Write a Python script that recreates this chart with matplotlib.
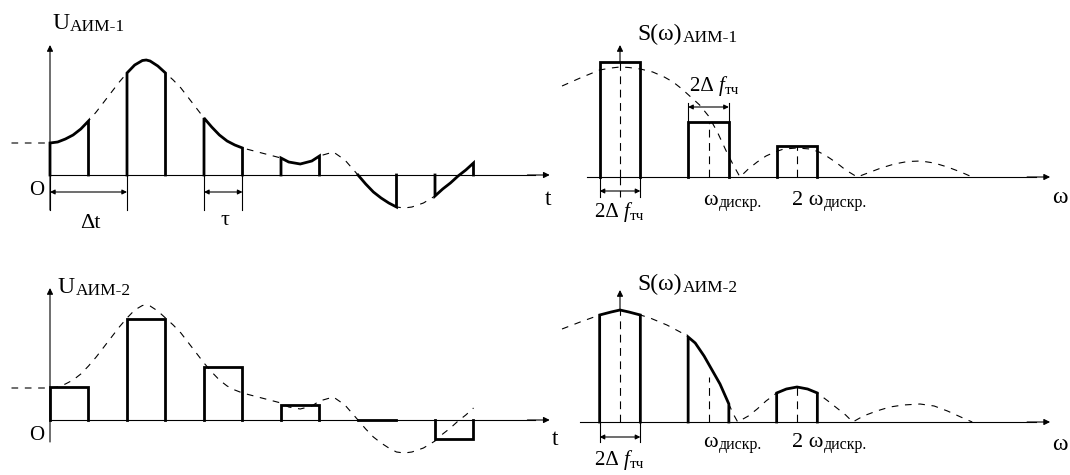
import matplotlib
matplotlib.use("Agg")
import matplotlib.pyplot as plt

plt.rcParams['font.family'] = ['Liberation Serif', 'DejaVu Serif']

W, H = 1070, 475

# ---- time domain: envelope (t in units of the sampling step, u relative)
env_t = [-0.5, -0.2, 0.0, 0.1, 0.2, 0.3, 0.4, 0.5, 0.6, 0.7, 0.8, 0.9,
         1.0, 1.1, 1.2, 1.25, 1.3, 1.4, 1.5, 1.6, 1.7, 1.8, 1.9,
         2.0, 2.1, 2.2, 2.3, 2.4, 2.5, 2.75, 3.0, 3.1, 3.25, 3.4, 3.5,
         3.68, 3.83, 4.0, 4.1, 4.2, 4.3, 4.4, 4.5, 4.6, 4.7, 4.85,
         5.0, 5.1, 5.2, 5.3, 5.4, 5.5]
env_u = [0.32, 0.32, 0.32, 0.33, 0.36, 0.40, 0.46, 0.54, 0.63, 0.73, 0.83, 0.93,
         1.02, 1.10, 1.145, 1.15, 1.14, 1.09, 1.02, 0.95, 0.87, 0.77, 0.67,
         0.57, 0.48, 0.40, 0.34, 0.30, 0.27, 0.22, 0.17, 0.13, 0.11, 0.14, 0.19,
         0.23, 0.15, 0.0, -0.09, -0.17, -0.23, -0.28, -0.32, -0.33, -0.32, -0.28,
         -0.21, -0.14, -0.08, -0.01, 0.05, 0.12]
sample_t = [0, 1, 2, 3, 4, 5]
tau = 0.5
aim2_u = [0.33, 1.01, 0.53, 0.15, 0.0, -0.19]

# ---- spectra (w in units of w_discr)
spec1_w = [-0.655, -0.45, -0.23, -0.1, 0.0, 0.1, 0.23, 0.37, 0.5, 0.6, 0.7,
           0.8, 0.9, 1.0, 1.1, 1.2, 1.28, 1.356, 1.45, 1.55, 1.65, 1.75, 1.85,
           2.0, 2.15, 2.25, 2.35, 2.45, 2.55, 2.68, 2.8, 2.95, 3.1, 3.25, 3.4,
           3.55, 3.7, 3.85, 3.98]
spec1_s = [0.91, 0.99, 1.07, 1.09, 1.10, 1.095, 1.08, 1.05, 1.00, 0.95, 0.88,
           0.80, 0.72, 0.61, 0.45, 0.26, 0.12, 0.0, 0.08, 0.15, 0.21, 0.25, 0.28,
           0.29, 0.28, 0.25, 0.20, 0.14, 0.07, 0.0, 0.04, 0.09, 0.13, 0.155, 0.16,
           0.14, 0.10, 0.05, 0.0]
spec2_w = [-0.655, -0.45, -0.23, -0.1, 0.0, 0.1, 0.23, 0.34, 0.53, 0.68, 0.77,
           0.85, 0.95, 1.04, 1.13, 1.23, 1.28, 1.33, 1.45, 1.55, 1.65, 1.77,
           1.88, 2.0, 2.12, 2.23, 2.35, 2.45, 2.55, 2.63, 2.75, 2.9, 3.05, 3.2,
           3.39, 3.55, 3.7, 3.85, 3.98]
spec2_s = [0.93, 1.00, 1.07, 1.10, 1.12, 1.10, 1.07, 1.04, 0.97, 0.90, 0.85,
           0.79, 0.66, 0.52, 0.38, 0.18, 0.08, 0.0, 0.06, 0.13, 0.21, 0.29,
           0.33, 0.35, 0.33, 0.29, 0.21, 0.14, 0.07, 0.0, 0.06, 0.11, 0.15, 0.17,
           0.18, 0.16, 0.11, 0.05, 0.0]
band_c = [0, 1, 2]
band_half = 0.23
aim1_band_s = [1.15, 0.55, 0.31]

THICK = 2.0
THIN = 0.8
DASH = (6, 6)

fig = plt.figure(figsize=(W / 100, H / 100), dpi=100)


def panel(px0, px1, py0, py1, ox, oy, sx, sy):
    ax = fig.add_axes([px0 / W, 1 - py1 / H, (px1 - px0) / W, (py1 - py0) / H])
    ax.set_xlim((px0 - ox) / sx, (px1 - ox) / sx)
    ax.set_ylim((oy - py1) / sy, (oy - py0) / sy)
    ax.axis('off')
    return ax


def arrow(ax, x0, y0, x1, y1, style='-|>', ms=9):
    ax.annotate('', xy=(x1, y1), xytext=(x0, y0),
                arrowprops=dict(arrowstyle=style, lw=THIN, color='k',
                                mutation_scale=ms, shrinkA=0, shrinkB=0))


def chain(ax, x, y, parts):
    # parts: (text, size, style, dy) ; each one starts where the last ended
    first = parts[0]
    prev = ax.text(x, y, first[0], fontsize=first[1], style=first[2],
                   ha='left', va='baseline')
    for txt, size, st, dy in parts[1:]:
        prev = ax.annotate(txt, xy=(1, 0), xycoords=prev,
                           xytext=(0.5, dy), textcoords='offset points',
                           fontsize=size, style=st, ha='left', va='bottom')


def seg(xs, ys, a, b):
    return [(x, y) for x, y in zip(xs, ys) if a - 1e-9 <= x <= b + 1e-9]


def dashed_env(ax, xs, ys):
    ax.plot(xs, ys, color='k', lw=THIN, dashes=DASH)


# ================= top left: АИМ-1 time domain
ax = panel(0, 560, 0, 230, 50, 175, 77, 100)
dashed_env(ax, env_t, env_u)
ax.plot([0, 6.3], [0, 0], color='k', lw=THIN)
arrow(ax, 6.2, 0, 6.49, 0)
arrow(ax, 0, -0.35, 0, 1.30)
for k in sample_t:
    pts = seg(env_t, env_u, k, k + tau)
    xs = [k] + [p[0] for p in pts] + [k + tau]
    ys = [0] + [p[1] for p in pts] + [0]
    ax.plot(xs, ys, color='k', lw=THICK, solid_joinstyle='miter')
# dimension marks
for xx in [0, 1, 2, 2 + tau]:
    ax.plot([xx, xx], [0, -0.35], color='k', lw=THIN)
arrow(ax, 0, -0.17, 1, -0.17, '<|-|>', 7)
arrow(ax, 2, -0.17, 2 + tau, -0.17, '<|-|>', 7)
ax.text(0.52, -0.53, 'Δt', fontsize=16, ha='center', va='baseline')
ax.text(2.27, -0.50, 'τ', fontsize=16, ha='center', va='baseline')
ax.text(-0.17, -0.2, 'O', fontsize=15, ha='center', va='baseline')
ax.text(6.47, -0.30, 't', fontsize=17, ha='center', va='baseline')
chain(ax, 0.03, 1.46, [('U', 17, 'normal', 0), ('АИМ-1', 12.5, 'normal', -1)])

# ================= bottom left: АИМ-2 time domain
ax = panel(0, 560, 230, 475, 50, 420, 77, 100)
dashed_env(ax, env_t, env_u)
ax.plot([0, 6.3], [0, 0], color='k', lw=THIN)
arrow(ax, 6.2, 0, 6.49, 0)
arrow(ax, 0, -0.22, 0, 1.32)
for k, u in zip(sample_t, aim2_u):
    ax.plot([k, k, k + tau, k + tau], [0, u, u, 0], color='k', lw=THICK,
            solid_joinstyle='miter')
ax.text(-0.17, -0.2, 'O', fontsize=15, ha='center', va='baseline')
ax.text(6.56, -0.25, 't', fontsize=17, ha='center', va='baseline')
chain(ax, 0.10, 1.27, [('U', 17, 'normal', 0), ('АИМ-2', 12.5, 'normal', -1)])


def spectrum_axes(ax, start):
    ax.plot([start, 4.7], [0, 0], color='k', lw=THIN)
    arrow(ax, 4.6, 0, 4.86, 0)


def w_labels(ax, y):
    chain(ax, 0.94, y, [('ω', 16, 'normal', 0), ('дискр.', 11.5, 'normal', -1)])
    chain(ax, 1.94, y, [('2 ω', 16, 'normal', 0), ('дискр.', 11.5, 'normal', -1)])


def band_label(ax, x, y):
    chain(ax, x, y, [('2Δ ', 15, 'normal', 0), ('f', 15, 'italic', 0),
                     ('тч', 11, 'normal', -1)])


# ================= top right: spectrum АИМ-1
ax = panel(560, 1070, 0, 230, 620, 177, 88.5, 100)
dashed_env(ax, spec1_w, spec1_s)
spectrum_axes(ax, -0.37)
for c, s in zip(band_c, aim1_band_s):
    ax.plot([c - band_half, c - band_half, c + band_half, c + band_half],
            [0, s, s, 0], color='k', lw=THICK, solid_joinstyle='miter')
    ax.plot([c, c], [0, s], color='k', lw=THIN, dashes=(7, 5))
ax.plot([0, 0], [0, -0.2], color='k', lw=THIN, dashes=(7, 5))
arrow(ax, 0, aim1_band_s[0], 0, 1.32)
for xx in [-band_half, band_half]:
    ax.plot([xx, xx], [0, -0.2], color='k', lw=THIN)
arrow(ax, -band_half, -0.14, band_half, -0.14, '<|-|>', 7)
band_label(ax, -0.28, -0.40)
for xx in [1 - band_half, 1 + band_half]:
    ax.plot([xx, xx], [aim1_band_s[1], 0.74], color='k', lw=THIN)
arrow(ax, 1 - band_half, 0.70, 1 + band_half, 0.70, '<|-|>', 7)
band_label(ax, 0.79, 0.86)
w_labels(ax, -0.28)
ax.text(4.97, -0.26, 'ω', fontsize=17, ha='center', va='baseline')
chain(ax, 0.2, 1.37, [('S(ω)', 17, 'normal', 0), ('АИМ-1', 12.5, 'normal', -1)])

# ================= bottom right: spectrum АИМ-2
ax = panel(560, 1070, 230, 475, 620, 422, 88.5, 100)
dashed_env(ax, spec2_w, spec2_s)
spectrum_axes(ax, -0.45)
for c in band_c:
    pts = seg(spec2_w, spec2_s, c - band_half, c + band_half)
    xs = [c - band_half] + [p[0] for p in pts] + [c + band_half]
    ys = [0] + [p[1] for p in pts] + [0]
    ax.plot(xs, ys, color='k', lw=THICK, solid_joinstyle='miter')
    top = max(p[1] for p in pts if abs(p[0] - c) < 0.12) if c != 1 else 0.45
    ax.plot([c, c], [0, top], color='k', lw=THIN, dashes=(7, 5))
arrow(ax, 0, spec2_s[spec2_w.index(0.0)], 0, 1.32)
for xx in [-band_half, band_half]:
    ax.plot([xx, xx], [0, -0.2], color='k', lw=THIN)
arrow(ax, -band_half, -0.15, band_half, -0.15, '<|-|>', 7)
band_label(ax, -0.28, -0.43)
w_labels(ax, -0.25)
ax.text(4.97, -0.28, 'ω', fontsize=17, ha='center', va='baseline')
chain(ax, 0.2, 1.32, [('S(ω)', 17, 'normal', 0), ('АИМ-2', 12.5, 'normal', -1)])

fig.savefig('out.png', dpi=100, facecolor='white')
